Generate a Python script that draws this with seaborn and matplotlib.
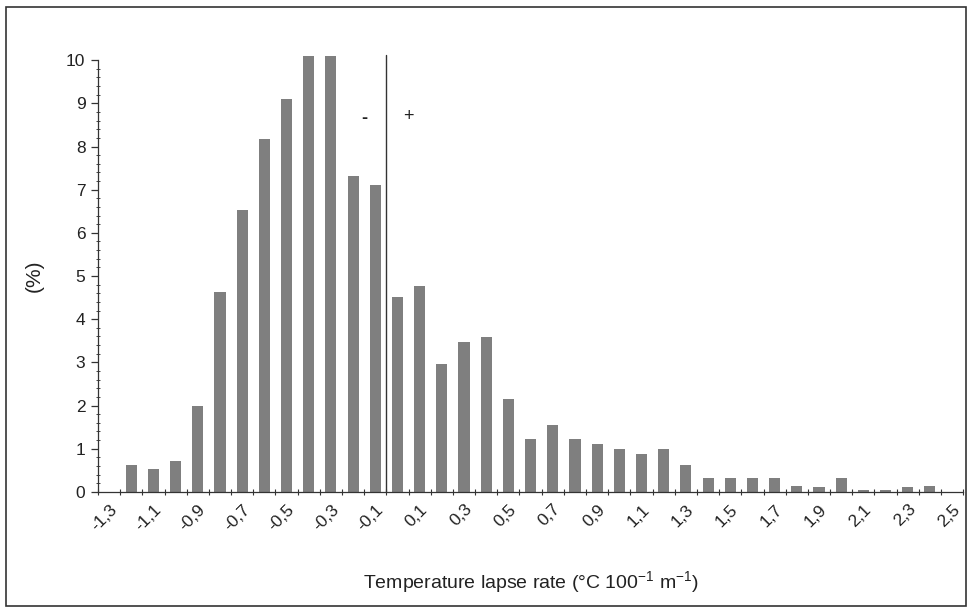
import matplotlib
matplotlib.use("Agg")
import matplotlib.pyplot as plt
from matplotlib.patches import Rectangle
from matplotlib.ticker import MultipleLocator
import seaborn as sns
import pandas as pd

categories = ["-1,3", "-1,2", "-1,1", "-1,0", "-0,9", "-0,8", "-0,7", "-0,6", "-0,5", "-0,4",
              "-0,3", "-0,2", "-0,1", "0,0", "0,1", "0,2", "0,3", "0,4", "0,5", "0,6",
              "0,7", "0,8", "0,9", "1,0", "1,1", "1,2", "1,3", "1,4", "1,5", "1,6",
              "1,7", "1,8", "1,9", "2,0", "2,1", "2,2", "2,3", "2,4", "2,5"]
percent = [0.0, 0.62, 0.52, 0.71, 2.0, 4.62, 6.53, 8.17, 9.1, 10.1,
           10.1, 7.32, 7.11, 4.52, 4.76, 2.97, 3.47, 3.59, 2.16, 1.23,
           1.56, 1.22, 1.12, 0.99, 0.87, 0.99, 0.63, 0.31, 0.31, 0.31,
           0.31, 0.13, 0.12, 0.31, 0.05, 0.05, 0.12, 0.13, 0.0]
tick_labels = ["-1,3", "-1,1", "-0,9", "-0,7", "-0,5", "-0,3", "-0,1", "0,1", "0,3", "0,5",
               "0,7", "0,9", "1,1", "1,3", "1,5", "1,7", "1,9", "2,1", "2,3", "2,5"]

df = pd.DataFrame({"cat": categories, "pct": percent})

sns.set_theme(style="white")
plt.rcParams["font.family"] = ["Liberation Sans", "DejaVu Sans"]
plt.rcParams["mathtext.fontset"] = "custom"
plt.rcParams["mathtext.rm"] = "Liberation Sans"

fig = plt.figure(figsize=(9.7, 6.08), dpi=100)
ax = fig.add_axes([0.101, 0.191, 0.892, 0.710])

sns.barplot(data=df, x="cat", y="pct", order=categories, color="#7f7f7f",
            saturation=1, width=0.5, ax=ax)
for p in ax.patches:
    p.set_clip_on(False)
    p.set_edgecolor("none")

ax.set_xlim(-0.5, len(categories) - 0.5)
ax.set_ylim(0, 10)

# x ticks: minor at category boundaries, labels on odd categories
label_pos = [categories.index(t) for t in tick_labels]
ax.set_xticks(label_pos)
ax.set_xticklabels(tick_labels, rotation=45, ha="right", va="top",
                   rotation_mode="anchor", fontsize=12.5, color="#222222")
ax.set_xticks([i - 0.5 for i in range(len(categories) + 1)], minor=True)
ax.tick_params(axis="x", which="major", length=0, pad=7)
ax.tick_params(axis="x", which="minor", length=4, width=0.8, color="#333333",
               direction="inout", bottom=True)

ax.set_yticks(range(0, 11))
ax.yaxis.set_minor_locator(MultipleLocator(0.2))
ax.tick_params(axis="y", which="major", length=5, width=0.9, color="#333333",
               direction="out", labelsize=12.5, labelcolor="#222222", left=True, pad=4)
ax.tick_params(axis="y", which="minor", length=3, width=0.7, color="#444444",
               direction="inout", left=True)

for s in ["top", "right"]:
    ax.spines[s].set_visible(False)
for s in ["left", "bottom"]:
    ax.spines[s].set_color("#333333")
    ax.spines[s].set_linewidth(0.9)

ax.set_xlabel("Temperature lapse rate (°C 100$^{\\mathregular{-1}}$ m$^{\\mathregular{-1}}$)",
              fontsize=14, color="#222222", labelpad=26)
ax.set_ylabel("(%)", fontsize=15, color="#222222", labelpad=16)

# divider between negative and positive lapse rates
div_x = categories.index("0,0") - 0.5
ax.plot([div_x, div_x], [0, 10.12], color="#333333", lw=1.0, clip_on=False)
ax.text(div_x - 1.0, 8.65, "-", fontsize=13, fontweight="bold", ha="center",
        va="center", color="#222222")
ax.text(div_x + 1.0, 8.7, "+", fontsize=13, ha="center", va="center", color="#222222")

# outer frame
fig.patches.append(Rectangle((0.006, 0.004), 0.990, 0.984, transform=fig.transFigure,
                             fill=False, edgecolor="#333333", lw=1.2))

fig.savefig("out.png", dpi=100, facecolor="white")
